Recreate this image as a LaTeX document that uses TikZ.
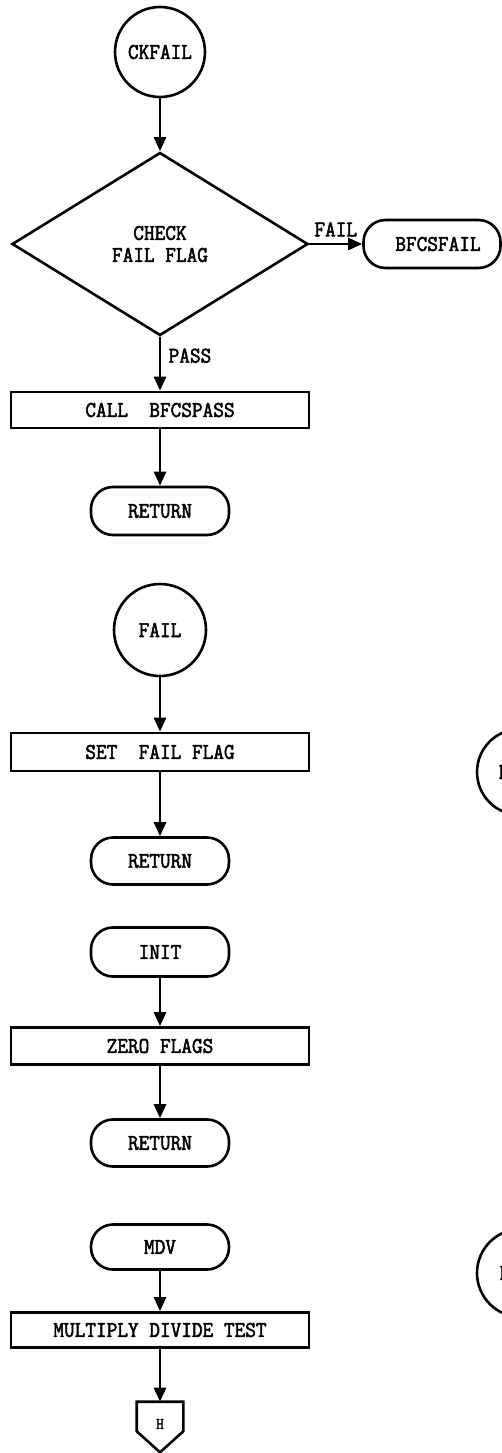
\documentclass[tikz,border=0pt]{standalone}
\usepackage{fontspec}
\setmonofont{Latin Modern Mono}[AutoFakeBold=2.2,FakeStretch=0.92]
\usetikzlibrary{arrows.meta,shapes.geometric,positioning}

\tikzset{
  flow/.style={-{Triangle[length=14pt,width=12pt]}},
  proc/.style={draw,rectangle,minimum width=298pt,minimum height=37pt,inner sep=0pt},
  term/.style={draw,rectangle,rounded corners=22pt,minimum width=138pt,minimum height=48pt,inner sep=0pt},
  entry/.style={draw,circle,minimum size=90pt,inner sep=0pt},
  decide/.style={draw,diamond,minimum width=296pt,minimum height=183pt,inner sep=0pt,align=center},
}

\begin{document}
\begin{tikzpicture}[x=1pt,y=-1pt,line width=2.6pt,
    font=\ttfamily\bfseries\fontsize{22.5}{22}\selectfont]
  \useasboundingbox (0,0) rectangle (502,1453);
  \clip (0,0) rectangle (502,1453);

  % CKFAIL
  \node[entry] (ckfail) at (160,52) {CKFAIL};
  \node[decide] (check) at (160,244) {CHECK\\FAIL FLAG};
  \node[term,minimum width=137pt] (bfcsfail) at (432,244) {\hspace*{12pt}BFCSFAIL};
  \node[proc,minimum height=36pt] (callpass) at (160,410) {CALL\ \ BFCSPASS};
  \node[term] (ret1) at (160,511) {RETURN};

  \draw[flow] (ckfail) -- (check);
  \draw[flow] (check.east) -- node[above=3pt] {FAIL} (bfcsfail);
  \draw[flow] (check.south) -- node[pos=0.35,right=4pt] {PASS} (callpass);
  \draw[flow] (callpass) -- (ret1);

  % FAIL
  \node[entry,minimum size=92pt] (fail) at (160,630) {FAIL};
  \node[proc,minimum height=38pt] (setflag) at (160,752) {SET\ \ FAIL FLAG};
  \node[term,minimum height=47pt] (ret2) at (160,861) {RETURN};

  \draw[flow] (fail) -- (setflag);
  \draw[flow] (setflag) -- (ret2);

  % INIT
  \node[term,minimum height=49pt] (init) at (160,952) {INIT};
  \node[proc] (zero) at (160,1046) {ZERO FLAGS};
  \node[term,minimum height=47pt] (ret3) at (160,1143) {RETURN};

  \draw[flow] (init) -- (zero);
  \draw[flow] (zero) -- (ret3);

  % MDV
  \node[term,minimum height=45pt] (mdv) at (160,1247) {MDV};
  \node[proc,minimum height=35pt] (mdtest) at (160,1330) {MULTIPLY DIVIDE TEST};
  \node[minimum width=44pt,minimum height=27pt,inner sep=0pt] (hconn) at (160,1416.5) {};
  \draw (hconn.north west) -- (hconn.south west) -- ([yshift=-21pt]hconn.south)
    -- (hconn.south east) -- (hconn.north east) -- cycle;
  \node[font=\ttfamily\bfseries\fontsize{16}{18}\selectfont] (hlabel) at (160,1424) {H};

  \draw[flow] (mdv) -- (mdtest);
  \draw[flow] (mdtest) -- (hconn);

  % entries cut off at the right edge
  \node[entry,minimum size=86pt] (exitA) at (520,772) {EXIT};
  \node[entry,minimum size=88pt] (exitB) at (521,1273) {EXIT};
\end{tikzpicture}
\end{document}
